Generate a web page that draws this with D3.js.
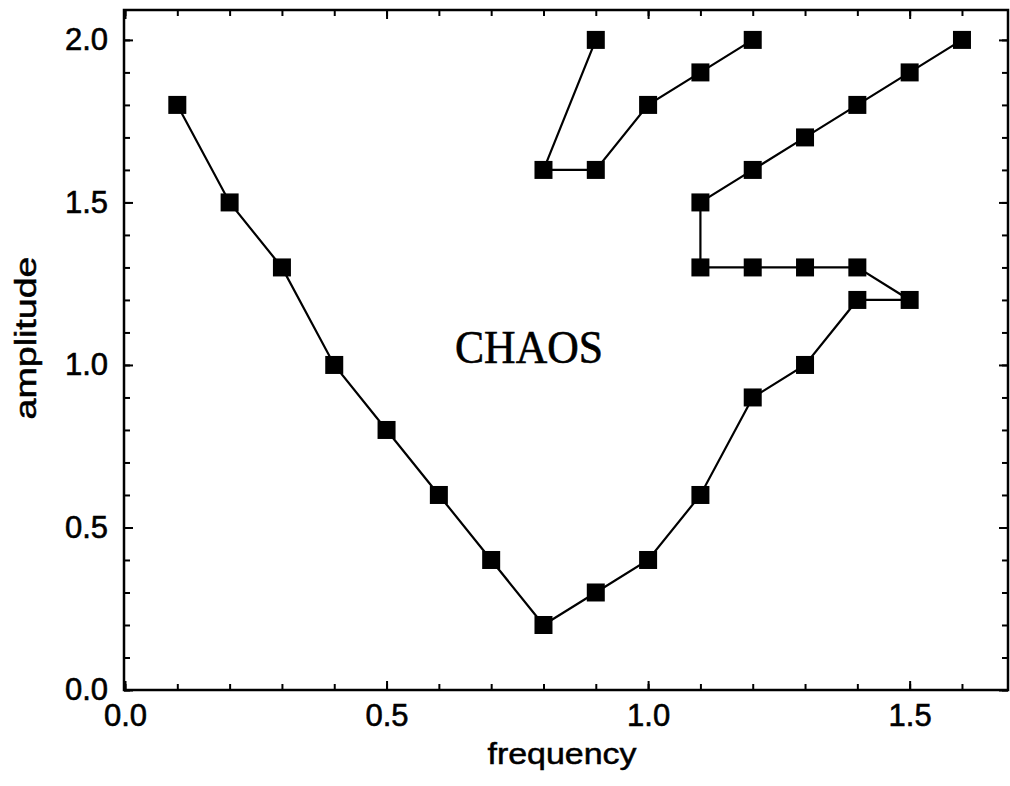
<!DOCTYPE html>
<html>
<head>
<meta charset="utf-8">
<script src="https://cdn.jsdelivr.net/npm/d3@7"></script>
<style>
  body { margin: 0; background: #fff; }
  svg { display: block; }
  .tick text { font-family: "Liberation Sans", Arial, sans-serif; font-size: 31px; fill: #000; stroke: #000; stroke-width: 0.6px; }
  .tick line { stroke: #000; stroke-width: 2; }
  .title { font-family: "Liberation Sans", Arial, sans-serif; font-size: 29px; fill: #000; stroke: #000; stroke-width: 0.5px; }
</style>
</head>
<body>
<div id="chart"></div>
<script>
// chart values
const lowerFreq = [0.1, 0.2, 0.3, 0.4, 0.5, 0.6, 0.7, 0.8, 0.9, 1.0, 1.1, 1.2, 1.3, 1.4, 1.5,
                   1.4, 1.3, 1.2, 1.1, 1.1, 1.2, 1.3, 1.4, 1.5, 1.6];
const lowerAmp  = [1.8, 1.5, 1.3, 1.0, 0.8, 0.6, 0.4, 0.2, 0.3, 0.4, 0.6, 0.9, 1.0, 1.2, 1.2,
                   1.3, 1.3, 1.3, 1.3, 1.5, 1.6, 1.7, 1.8, 1.9, 2.0];
const upperFreq = [0.9, 0.8, 0.9, 1.0, 1.1, 1.2];
const upperAmp  = [2.0, 1.6, 1.6, 1.8, 1.9, 2.0];

const xMajor = [0.0, 0.5, 1.0, 1.5];
const yMajor = [0.0, 0.5, 1.0, 1.5, 2.0];
const xMinor = d3.range(0, 17).map(i => i / 10);
const yMinor = d3.range(0, 21).map(i => i / 10);

const regionLabel = 'CHAOS';
const xTitle = 'frequency';
const yTitle = 'amplitude';

// layout
const width = 1010, height = 786;
const plot = { left: 124, right: 1008, top: 10, bottom: 690 };

const svg = d3.select('#chart').append('svg')
    .attr('width', width)
    .attr('height', height);

const x = d3.scaleLinear().domain([0, 1.688]).range([125, plot.right]);
const y = d3.scaleLinear().domain([0, 2.092]).range([plot.bottom, plot.top]);

const fmt = d3.format('.1f');

// bottom axis (minor then major)
svg.append('g').attr('transform', `translate(0,${plot.bottom})`)
    .call(d3.axisBottom(x).tickValues(xMinor).tickSize(-6).tickFormat(''));
svg.append('g').attr('transform', `translate(0,${plot.bottom})`)
    .call(d3.axisBottom(x).tickValues(xMajor).tickSize(-9).tickPadding(14).tickFormat(fmt));

// top axis
svg.append('g').attr('transform', `translate(0,${plot.top})`)
    .call(d3.axisTop(x).tickValues(xMinor).tickSize(-6).tickFormat(''));
svg.append('g').attr('transform', `translate(0,${plot.top})`)
    .call(d3.axisTop(x).tickValues(xMajor).tickSize(-9).tickFormat(''));

// left axis
svg.append('g').attr('transform', `translate(${plot.left},0)`)
    .call(d3.axisLeft(y).tickValues(yMinor).tickSize(-6).tickFormat(''));
svg.append('g').attr('transform', `translate(${plot.left},0)`)
    .call(d3.axisLeft(y).tickValues(yMajor).tickSize(-9).tickPadding(16).tickFormat(fmt));

// right axis
svg.append('g').attr('transform', `translate(${plot.right},0)`)
    .call(d3.axisRight(y).tickValues(yMinor).tickSize(-6).tickFormat(''));
svg.append('g').attr('transform', `translate(${plot.right},0)`)
    .call(d3.axisRight(y).tickValues(yMajor).tickSize(-9).tickFormat(''));

svg.selectAll('.domain').remove();

// frame
svg.append('rect')
    .attr('x', plot.left)
    .attr('y', plot.top)
    .attr('width', plot.right - plot.left)
    .attr('height', plot.bottom - plot.top)
    .attr('fill', 'none')
    .attr('stroke', '#000')
    .attr('stroke-width', 2.5);

// series
const line = d3.line().x(d => x(d[0])).y(d => y(d[1]));
const series = [
    d3.zip(lowerFreq, lowerAmp),
    d3.zip(upperFreq, upperAmp)
];

const markerSize = 18;
series.forEach(pts => {
    svg.append('path')
        .datum(pts)
        .attr('d', line)
        .attr('fill', 'none')
        .attr('stroke', '#000')
        .attr('stroke-width', 2.2);

    svg.append('g').selectAll('rect')
        .data(pts)
        .enter()
        .append('rect')
        .attr('x', d => x(d[0]) - markerSize / 2)
        .attr('y', d => y(d[1]) - markerSize / 2)
        .attr('width', markerSize)
        .attr('height', markerSize)
        .attr('fill', '#000');
});

// region label
svg.append('text')
    .attr('x', 529)
    .attr('y', 363)
    .attr('text-anchor', 'middle')
    .attr('textLength', 148)
    .attr('lengthAdjust', 'spacingAndGlyphs')
    .style('font-family', '"Liberation Serif", "Times New Roman", serif')
    .style('font-size', '46px')
    .style('stroke', '#000')
    .style('stroke-width', '0.6px')
    .text(regionLabel);

// axis titles
svg.append('text')
    .attr('class', 'title')
    .attr('x', 562)
    .attr('y', 764)
    .attr('text-anchor', 'middle')
    .attr('textLength', 149)
    .attr('lengthAdjust', 'spacingAndGlyphs')
    .text(xTitle);

svg.append('text')
    .attr('class', 'title')
    .attr('transform', 'translate(36,338) rotate(-90)')
    .attr('text-anchor', 'middle')
    .attr('textLength', 163)
    .attr('lengthAdjust', 'spacingAndGlyphs')
    .text(yTitle);
</script>
</body>
</html>
